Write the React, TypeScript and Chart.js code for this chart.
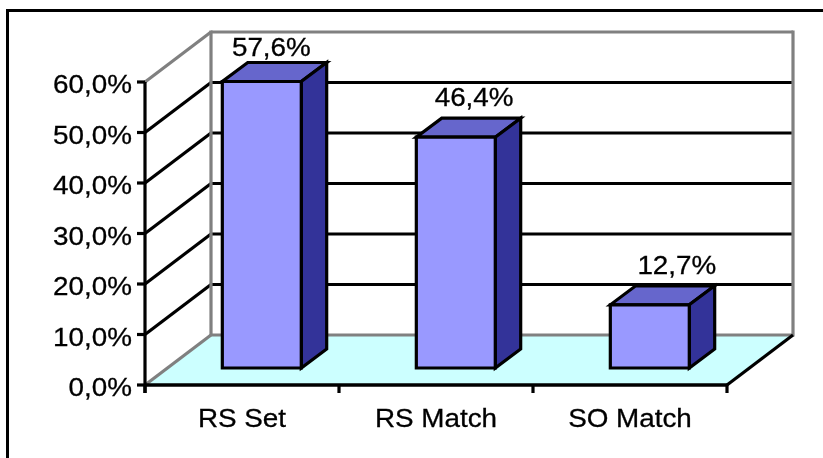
import React, { useEffect, useRef } from "react";
import { Chart, registerables } from "chart.js";

Chart.register(...registerables);

// Share of matches per category (percent)
const categories = ["RS Set", "RS Match", "SO Match"];
const shares = [57.6, 46.4, 12.7];
const yTicks = [0, 10, 20, 30, 40, 50, 60];
const yTickLabels = ["0,0%", "10,0%", "20,0%", "30,0%", "40,0%", "50,0%", "60,0%"];

const W = 823;
const H = 458;

// Depth of the box (floor / side wall) in screen pixels
const WALL_DX = 66;
const WALL_DY = 50;
// Depth position of the columns inside the box (fractions of the wall depth)
const BAR_FRONT_X = 0.3;
const BAR_FRONT_Y = 0.34;
const BAR_BACK_X = 0.685;
const BAR_BACK_Y = 0.72;

const FONT = '26px "Liberation Sans", Arial, sans-serif';
const STRETCH = 1.07;

const GRAY = "#808080";
const BLACK = "#000000";
const FLOOR = "#CCFFFF";
const FACE_FRONT = "#9999FF";
const FACE_TOP = "#6666CC";
const FACE_SIDE = "#333399";

const fmtPct = (v: number) => v.toFixed(1).replace(".", ",") + "%";

function text(ctx: CanvasRenderingContext2D, s: string, x: number, y: number, align: CanvasTextAlign) {
  ctx.save();
  ctx.translate(x, y);
  ctx.scale(STRETCH, 1);
  ctx.font = FONT;
  ctx.fillStyle = BLACK;
  ctx.strokeStyle = BLACK;
  ctx.lineWidth = 0.3;
  ctx.textAlign = align;
  ctx.textBaseline = "alphabetic";
  ctx.fillText(s, 0, 0);
  ctx.strokeText(s, 0, 0);
  ctx.restore();
}

function line(ctx: CanvasRenderingContext2D, x1: number, y1: number, x2: number, y2: number, color: string, w = 3.2) {
  ctx.save();
  ctx.strokeStyle = color;
  ctx.lineWidth = w;
  ctx.lineCap = "butt";
  ctx.beginPath();
  ctx.moveTo(x1, y1);
  ctx.lineTo(x2, y2);
  ctx.stroke();
  ctx.restore();
}

function poly(ctx: CanvasRenderingContext2D, pts: number[][], fill: string, stroke?: string, w = 3.2) {
  ctx.save();
  ctx.beginPath();
  pts.forEach(([px, py], i) => (i ? ctx.lineTo(px, py) : ctx.moveTo(px, py)));
  ctx.closePath();
  ctx.fillStyle = fill;
  ctx.fill();
  if (stroke) {
    ctx.strokeStyle = stroke;
    ctx.lineWidth = w;
    ctx.lineJoin = "miter";
    ctx.stroke();
  }
  ctx.restore();
}

const box3d = {
  id: "box3d",
  afterDraw(chart: any) {
    const { ctx, chartArea: a } = chart;
    const xs = chart.scales.x;
    const ys = chart.scales.y;
    const L = a.left;
    const R = a.right;
    const y0 = ys.getPixelForValue(0);
    const yMax = ys.getPixelForValue(yTicks[yTicks.length - 1]);

    ctx.save();

    // outer frame
    ctx.strokeStyle = BLACK;
    ctx.lineWidth = 3;
    ctx.strokeRect(7.5, 10.5, W + 20, H + 20);

    // floor
    poly(ctx, [[L, y0], [R, y0], [R + WALL_DX, y0 - WALL_DY], [L + WALL_DX, y0 - WALL_DY]], FLOOR);

    // gridlines on side wall and back wall
    yTicks.forEach((v, i) => {
      const py = ys.getPixelForValue(v);
      const edge = i === 0 || i === yTicks.length - 1;
      const c = edge ? GRAY : BLACK;
      line(ctx, L, py, L + WALL_DX, py - WALL_DY, c);
      line(ctx, L + WALL_DX, py - WALL_DY, R + WALL_DX, py - WALL_DY, c);
    });
    // back wall vertical edges
    line(ctx, L + WALL_DX, yMax - WALL_DY - 1.5, L + WALL_DX, y0 - WALL_DY, GRAY);
    line(ctx, R + WALL_DX, yMax - WALL_DY - 1.5, R + WALL_DX, y0 - WALL_DY + 1.5, GRAY);

    // floor front and right edges
    line(ctx, L, y0, R, y0, BLACK, 3.6);
    line(ctx, R, y0, R + WALL_DX, y0 - WALL_DY, BLACK);

    // value axis and ticks
    line(ctx, L, yMax, L, y0 + 8, BLACK);
    yTicks.forEach((v, i) => {
      const py = ys.getPixelForValue(v);
      line(ctx, L - 8, py, L, py, BLACK);
      text(ctx, yTickLabels[i], L - 13, py + 11, "right");
    });

    // category ticks and labels
    for (let i = 0; i <= categories.length; i++) {
      const px = xs.getPixelForValue(i - 0.5);
      line(ctx, px, y0, px, y0 + 8, BLACK);
    }
    categories.forEach((c, i) => {
      text(ctx, c, xs.getPixelForValue(i), y0 + 42, "center");
    });

    // columns
    const meta = chart.getDatasetMeta(0);
    const fx = BAR_FRONT_X * WALL_DX;
    const fy = BAR_FRONT_Y * WALL_DY;
    const dx = (BAR_BACK_X - BAR_FRONT_X) * WALL_DX;
    const dy = (BAR_BACK_Y - BAR_FRONT_Y) * WALL_DY;
    meta.data.forEach((el: any, i: number) => {
      const { x, width } = el.getProps(["x", "width"], true);
      const v = shares[i];
      const h = (y0 - ys.getPixelForValue(v)) * 0.985;
      const left = x - width / 2 + fx;
      const right = x + width / 2 + fx;
      const bottom = y0 - fy;
      const top = bottom - h;

      poly(ctx, [[left, top], [right, top], [right + dx, top - dy], [left + dx, top - dy]], FACE_TOP, BLACK);
      poly(ctx, [[right, top], [right + dx, top - dy], [right + dx, bottom - dy], [right, bottom]], FACE_SIDE, BLACK);
      poly(ctx, [[left, top], [right, top], [right, bottom], [left, bottom]], FACE_FRONT, BLACK);

      const lx = x + 25 + (x - L) * 0.045;
      const ly = Math.max(top - dy - 12, yMax - WALL_DY + 24);
      text(ctx, fmtPct(v), lx, ly, "center");
    });

    ctx.restore();
  },
};

export default function App() {
  const ref = useRef<HTMLCanvasElement | null>(null);

  useEffect(() => {
    const canvas = ref.current;
    if (!canvas) return;
    const chart = new Chart(canvas, {
      type: "bar",
      data: {
        labels: categories,
        datasets: [
          {
            data: shares,
            backgroundColor: "rgba(0,0,0,0)",
            borderWidth: 0,
            categoryPercentage: 1,
            barPercentage: 0.407,
          },
        ],
      },
      options: {
        responsive: false,
        animation: false,
        devicePixelRatio: 1,
        events: [],
        layout: { padding: { left: 0, top: 82, right: 96, bottom: 0 } },
        plugins: { legend: { display: false }, tooltip: { enabled: false } },
        scales: {
          x: {
            grid: { display: false },
            border: { display: false },
            ticks: { display: false },
            afterFit: (s: any) => {
              s.height = 73;
            },
          },
          y: {
            min: 0,
            max: 60,
            ticks: { display: false, stepSize: 10 },
            grid: { display: false },
            border: { display: false },
            afterFit: (s: any) => {
              s.width = 145;
            },
          },
        },
      },
      plugins: [box3d],
    });
    return () => chart.destroy();
  }, []);

  return (
    <div style={{ position: "fixed", left: 0, top: 0, width: W, height: H, background: "#fff" }}>
      <canvas ref={ref} width={W} height={H} style={{ display: "block" }} />
    </div>
  );
}
